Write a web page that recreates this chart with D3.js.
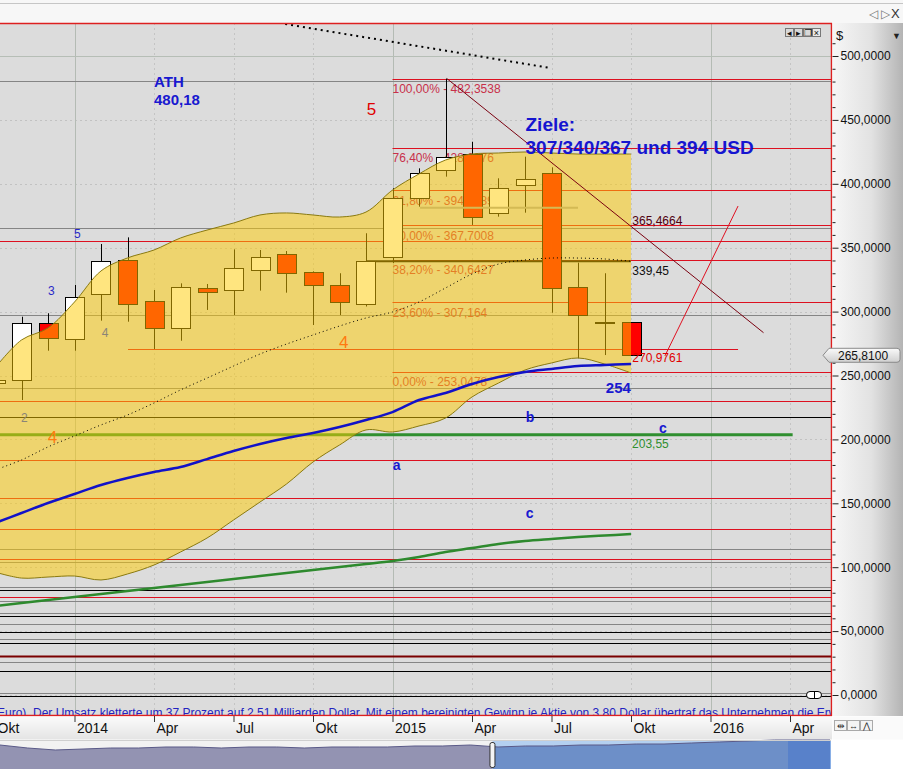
<!DOCTYPE html>
<html><head><meta charset="utf-8">
<script src="https://cdn.jsdelivr.net/npm/d3@7"></script>
<style>
body{margin:0;background:#fff;overflow:hidden}
svg{display:block;font-family:"Liberation Sans",Arial,sans-serif}
</style></head><body>
<svg id="c" width="903" height="769"></svg>
<script>
// ---------- DATA ----------
// month index: 0 = Jan 2014
const candleMonths = d3.range(-3, 22);
const openVals  = [244.5,246.5,290.8,279.1,314.3,340.4,308.3,286.9,318.2,316.4,332.0,344.8,330.8,320.6,305.7,342.5,389.1,410.8,423.1,376.9,398.5,408.2,319.5,291.8,291.6];
const highVals  = [246.5,296.0,298.7,320.8,352.9,358.1,316.9,322.1,321.6,348.7,348.2,347.4,331.5,330.0,361.3,396.5,412.1,482.35,432.9,404.3,421.2,412.9,338.3,330.0,291.6];
const lowVals   = [244.5,230.8,269.4,269.4,292.9,292.1,270.7,277.2,301.3,297.3,316.4,314.8,289.5,297.3,304.0,338.0,382.1,405.6,367.8,374.3,377.4,299.1,263.5,266.0,265.81];
const closeVals = [246.5,290.8,279.1,311.7,339.8,305.7,286.9,319.0,315.1,333.9,342.5,330.0,320.3,307.3,339.4,388.7,408.7,421.2,373.8,396.5,403.5,317.9,297.3,291.4,265.81];

const bandUpper  = [255.9,277.8,287.2,307.5,331.8,342.0,348.2,357.6,363.8,369.3,375.6,377.2,375.6,374.0,377.9,395.1,407.7,418.6,423.3,424.1,424.9,424.1,423.3,423.3,423.3];
const bandLower  = [96.2,91.5,92.3,93.1,90.0,94.7,101.7,111.9,122.8,136.9,151.0,165.1,182.3,195.6,207.4,205.8,210.5,216.7,233.2,244.1,254.3,259.8,263.7,259.0,252.0];
const bandMiddle = [176.1,183.9,194.1,202.7,211.3,219.1,228.5,238.7,248.0,257.4,266.8,274.6,281.7,288.7,295.0,299.7,307.5,318.5,329.4,337.2,340.4,341.9,341.9,341.2,339.45];
const blueMA  = [134.6,142.4,150.2,157.3,164.3,169.8,174.5,178.4,184.6,190.9,196.4,201.1,205.0,209.7,215.2,221.4,230.8,236.3,243.4,248.8,252.7,255.1,257.4,258.2,259.0];
const greenMA = [69.6,72.0,74.3,76.7,79.0,81.4,83.7,86.1,88.4,90.8,93.1,95.5,97.8,100.2,102.5,104.9,108.0,111.9,115.0,118.2,120.5,122.1,123.6,124.8,126.0];

const fibValues = [482.3538,428.2376,394.7589,367.7008,340.6427,307.164,253.0478];
const fibLabels = ["100,00% - 482,3538","76,40% - 428,2376","61,80% - 394,7589","50,00% - 367,7008","38,20% - 340,6427","23,60% - 307,164","0,00% - 253,0478"];
const fibStartMonth = 12;

const redLevels   = [355.2,230.3,183.9,153.9,129.7,106.2,76.4];
const darkRedLevels = [30.5];
const grayLevels  = [480.18,365.47,297.1,240.0,114.0,103.8,84.7,73.8,64.4,55.3,43.6,25.8,1.6];
const blackLevels = [217.3,82.2,61.8,49.5,40.5,19.0,-0.9];
const topLevel = [500];

const yTicksMajor = d3.range(0, 501, 50);
const yTicksMinor = d3.range(0, 511, 10).filter(v => v % 50 !== 0);
const xTickMonths = d3.range(-3, 28, 3);
const quarterNames = ["", "Apr", "Jul", "Okt"];

const lastPrice = 265.81;
const navValues = [77.4,67.7,61.3,64.5,67.7,67.7,71.0,71.0,67.7,71.0,71.0,67.7,71.0,71.0,71.0,74.2,74.2,77.4,71.0,74.2,74.2,77.4,77.4,80.6,80.6,83.9,87.1,90.3,93.5,93.5,93.5];
const navSelStart = 17.8; // index in navValues

const tickerText = "Euro). Der Umsatz kletterte um 37 Prozent auf 2,51 Milliarden Dollar. Mit einem bereinigten Gewinn je Aktie von 3,80 Dollar übertraf das Unternehmen die Erwartungen";

// ---------- LAYOUT ----------
const W = 903, H = 769;
const P = {l: 0, r: 831, t: 23, b: 715};
const x = d3.scaleLinear().domain([0, 12]).range([74.5, 392.5]);
const y = d3.scaleLinear().domain([0, 500]).range([695, 56]);
const fmtDE = (v, d) => d3.format("." + d + "f")(v).replace(".", ",");

const svg = d3.select("#c");
const defs = svg.append("defs");
defs.append("clipPath").attr("id", "plotClip").append("rect")
  .attr("x", P.l).attr("y", P.t).attr("width", P.r - P.l).attr("height", P.b - P.t);
const gAx = defs.append("linearGradient").attr("id", "axGrad").attr("x1", 0).attr("x2", 1).attr("y1", 0).attr("y2", 0);
gAx.append("stop").attr("offset", "0").attr("stop-color", "#f6f6f6");
gAx.append("stop").attr("offset", "0.55").attr("stop-color", "#e2e2e2");
gAx.append("stop").attr("offset", "1").attr("stop-color", "#b4b4b4");
const gX = defs.append("linearGradient").attr("id", "xGrad").attr("x1", 0).attr("x2", 0).attr("y1", 0).attr("y2", 1);
gX.append("stop").attr("offset", "0").attr("stop-color", "#fbfbfb");
gX.append("stop").attr("offset", "1").attr("stop-color", "#e4e4e4");
const gTag = defs.append("linearGradient").attr("id", "tagGrad").attr("x1", 0).attr("x2", 0).attr("y1", 0).attr("y2", 1);
gTag.append("stop").attr("offset", "0").attr("stop-color", "#fafafa");
gTag.append("stop").attr("offset", "1").attr("stop-color", "#cfcfcf");

// top toolbar
svg.append("rect").attr("x", 0).attr("y", 0).attr("width", W).attr("height", P.t).attr("fill", "#f7f7f7");
svg.append("line").attr("x1", 0).attr("x2", W).attr("y1", 3.5).attr("y2", 3.5).attr("stroke", "#c6c6c6");
svg.append("text").attr("x", 869).attr("y", 18).attr("font-size", 12).attr("fill", "#777").text("◁ ▷");
svg.append("text").attr("x", 891).attr("y", 18).attr("font-size", 13).attr("fill", "#333").text("X");

// plot background
svg.append("rect").attr("x", P.l).attr("y", P.t).attr("width", P.r - P.l).attr("height", P.b - P.t).attr("fill", "#dcdcdc");

const plot = svg.append("g").attr("clip-path", "url(#plotClip)");

// grid
plot.selectAll(".hg").data(yTicksMajor).join("line")
  .attr("x1", P.l).attr("x2", P.r).attr("y1", d => Math.round(y(d)) + 0.5).attr("y2", d => Math.round(y(d)) + 0.5)
  .attr("stroke", "#c2c2c2").attr("stroke-dasharray", "2,3");
plot.selectAll(".vg").data(xTickMonths).join("line")
  .attr("x1", d => Math.round(x(d)) + 0.5).attr("x2", d => Math.round(x(d)) + 0.5).attr("y1", P.t).attr("y2", P.b)
  .attr("stroke", d => (((d % 12) + 12) % 12 === 0) ? "#b4bbb4" : "#c4c4c4")
  .attr("stroke-dasharray", d => (((d % 12) + 12) % 12 === 0) ? null : "2,3");

// horizontal level lines
function hlines(arr, color, w) {
  plot.append("g").selectAll("line").data(arr).join("line")
    .attr("x1", P.l).attr("x2", P.r)
    .attr("y1", d => Math.round(y(d)) + 0.5).attr("y2", d => Math.round(y(d)) + 0.5)
    .attr("stroke", color).attr("stroke-width", w);
}
hlines(topLevel, "#b6beb6", 1);
hlines(grayLevels, "#858585", 1);
hlines(blackLevels, "#000", 1);
hlines(redLevels, "#dd1020", 1);
hlines(darkRedLevels, "#7a0000", 2);

// fib lines
plot.append("g").selectAll("line").data(fibValues).join("line")
  .attr("x1", x(fibStartMonth)).attr("x2", P.r)
  .attr("y1", d => Math.round(y(d)) + 0.5).attr("y2", d => Math.round(y(d)) + 0.5)
  .attr("stroke", "#dd1020").attr("stroke-width", 1);
plot.append("g").selectAll("text").data(fibValues).join("text")
  .attr("x", x(fibStartMonth)).attr("y", d => y(d) + 14.5)
  .attr("font-size", 12).attr("fill", "#c8304a")
  .text((d, i) => fibLabels[i]);

// special segments
plot.append("line").attr("x1", x(2.02)).attr("x2", x(25.04)).attr("y1", Math.round(y(270.98)) + 0.5).attr("y2", Math.round(y(270.98)) + 0.5)
  .attr("stroke", "#dd1020");
plot.append("line").attr("x1", x(-3)).attr("x2", x(27.1)).attr("y1", y(203.55)).attr("y2", y(203.55))
  .attr("stroke", "#2f8f2f").attr("stroke-width", 3);
plot.append("line").attr("x1", x(11)).attr("x2", x(21)).attr("y1", y(339.45)).attr("y2", y(339.45))
  .attr("stroke", "#000").attr("stroke-width", 2);

// candles
const candles = candleMonths.map((m, i) => ({m, o: openVals[i], h: highVals[i], l: lowVals[i], c: closeVals[i]}));
const bw = 19;
const cg = plot.append("g");
cg.selectAll("line").data(candles).join("line")
  .attr("x1", d => Math.round(x(d.m)) + 0.5).attr("x2", d => Math.round(x(d.m)) + 0.5)
  .attr("y1", d => y(d.h)).attr("y2", d => y(d.l)).attr("stroke", "#000");
cg.selectAll("rect").data(candles).join("rect")
  .attr("x", d => Math.round(x(d.m) - bw / 2) + 0.5)
  .attr("y", d => Math.round(y(Math.max(d.o, d.c))) + 0.5)
  .attr("width", bw)
  .attr("height", d => Math.max(1, Math.round(Math.abs(y(d.o) - y(d.c)))))
  .attr("fill", d => d.c >= d.o ? "#ffffff" : "#ff0000")
  .attr("stroke", "#000");

// light gray segment
plot.append("line").attr("x1", x(13.04)).attr("x2", x(19)).attr("y1", y(381.3)).attr("y2", y(381.3))
  .attr("stroke", "#a8a8a8").attr("stroke-width", 2);

// band overlay
const band = candleMonths.map((m, i) => ({m, u: bandUpper[i], lo: bandLower[i], mid: bandMiddle[i], b: blueMA[i], g: greenMA[i]}));
const curve = d3.curveCatmullRom.alpha(0.5);
plot.append("path").datum(band)
  .attr("d", d3.area().x(d => x(d.m)).y0(d => y(d.lo)).y1(d => y(d.u)).curve(curve))
  .attr("fill", "rgba(255,204,0,0.5)");
plot.append("path").datum(band)
  .attr("d", d3.line().x(d => x(d.m)).y(d => y(d.u)).curve(curve))
  .attr("fill", "none").attr("stroke", "#8a7a10").attr("stroke-width", 1);
plot.append("path").datum(band)
  .attr("d", d3.line().x(d => x(d.m)).y(d => y(d.lo)).curve(curve))
  .attr("fill", "none").attr("stroke", "#8a7a10").attr("stroke-width", 1);
plot.append("path").datum(band)
  .attr("d", d3.line().x(d => x(d.m)).y(d => y(d.mid)).curve(curve))
  .attr("fill", "none").attr("stroke", "#000").attr("stroke-width", 1).attr("stroke-dasharray", "1,3");

// moving averages
plot.append("path").datum(band)
  .attr("d", d3.line().x(d => x(d.m)).y(d => y(d.b)).curve(curve))
  .attr("fill", "none").attr("stroke", "#1212c8").attr("stroke-width", 2.5);
plot.append("path").datum(band)
  .attr("d", d3.line().x(d => x(d.m)).y(d => y(d.g)).curve(curve))
  .attr("fill", "none").attr("stroke", "#2e8a2e").attr("stroke-width", 2.5);

// trend lines
const trendTop = [[7.95, 525], [17.95, 490.6]];
const trendDown = [[14.05, 482.35], [26.0, 283.5]];
const trendUp = [[22.28, 265.3], [25.04, 382.6]];
const ln = d3.line().x(d => x(d[0])).y(d => y(d[1]));
plot.append("path").attr("d", ln(trendTop)).attr("stroke", "#000").attr("stroke-width", 2).attr("stroke-dasharray", "2,4").attr("fill", "none");
plot.append("path").attr("d", ln(trendDown)).attr("stroke", "#7a0010").attr("stroke-width", 1).attr("fill", "none");
plot.append("path").attr("d", ln(trendUp)).attr("stroke", "#e01020").attr("stroke-width", 1).attr("fill", "none");

// annotations [text, month, value, color, size, weight]
const notes = [
  ["ATH", 3.0, 475.4, "#1818d0", 15, "bold"],
  ["480,18", 3.0, 461.7, "#1818d0", 15, "bold"],
  ["5", 11.03, 453.8, "#e00000", 17, "normal"],
  ["Ziele:", 17.02, 441.3, "#1515d0", 19, "bold"],
  ["307/340/367 und 394 USD", 17.02, 423.3, "#1515d0", 19, "bold"],
  ["5", -0.02, 357.4, "#2a2ac8", 12, "normal"],
  ["3", -1.0, 313.0, "#2a2ac8", 12, "normal"],
  ["4", 1.03, 280.4, "#8a8478", 12, "normal"],
  ["2", -2.02, 213.9, "#8a8478", 12, "normal"],
  ["4", -1.01, 197.2, "#ff7a10", 17, "normal"],
  ["4", 9.98, 271.5, "#ff7a10", 17, "normal"],
  ["3", -3.3, 350.5, "#e00000", 17, "normal"],
  ["365,4664", 21.05, 367.4, "#500010", 12, "normal"],
  ["339,45", 21.05, 329.0, "#101010", 12, "normal"],
  ["270,9761", 21.05, 260.2, "#e00000", 12, "normal"],
  ["254", 20.05, 236.1, "#1818d0", 15, "bold"],
  ["b", 17.03, 213.9, "#1818d0", 14, "bold"],
  ["c", 22.06, 205.2, "#1818d0", 14, "bold"],
  ["203,55", 21.04, 193.3, "#2f8f2f", 12, "normal"],
  ["a", 12.01, 176.1, "#1818d0", 14, "bold"],
  ["c", 17.03, 138.7, "#1818d0", 14, "bold"]
];
plot.append("g").selectAll("text").data(notes).join("text")
  .attr("x", d => x(d[1])).attr("y", d => y(d[2]))
  .attr("fill", d => d[3]).attr("font-size", d => d[4]).attr("font-weight", d => d[5])
  .text(d => d[0]);

// zero-line symbol
plot.append("rect").attr("x", 806.5).attr("y", 691.5).attr("width", 15).attr("height", 7).attr("rx", 3.5)
  .attr("fill", "#fff").attr("stroke", "#000");
plot.append("line").attr("x1", 814.5).attr("x2", 814.5).attr("y1", 691).attr("y2", 699).attr("stroke", "#000");

// ticker text
plot.append("text").attr("x", -3).attr("y", 716.5).attr("font-size", 12).attr("fill", "#2323c0").text(tickerText);

// in-plot buttons
const btn = svg.append("g");
[["◂", 785], ["▸", 794], ["❐", 803], ["×", 812]].forEach(([t, bx]) => {
  btn.append("rect").attr("x", bx + 0.5).attr("y", 28.5).attr("width", 8).attr("height", 8)
    .attr("fill", t === "×" ? "#e8e8e8" : "#d8d8d8").attr("stroke", "#777");
  btn.append("text").attr("x", bx + 4.5).attr("y", 35.5).attr("text-anchor", "middle").attr("font-size", 9).attr("fill", "#111").text(t);
});

// borders
svg.append("line").attr("x1", 0).attr("x2", P.r + 1).attr("y1", P.t + 0.5).attr("y2", P.t + 0.5).attr("stroke", "#dd2020").attr("stroke-width", 1.5);
svg.append("line").attr("x1", P.r + 0.5).attr("x2", P.r + 0.5).attr("y1", P.t).attr("y2", P.b + 1).attr("stroke", "#dd2020").attr("stroke-width", 1.5);
svg.append("line").attr("x1", 0).attr("x2", P.r + 1).attr("y1", P.b + 0.5).attr("y2", P.b + 0.5).attr("stroke", "#dd2020").attr("stroke-width", 1.5);

// right axis panel
svg.append("rect").attr("x", P.r + 1.5).attr("y", P.t).attr("width", W - P.r - 1.5).attr("height", P.b - P.t + 1).attr("fill", "url(#axGrad)");
svg.append("text").attr("x", 836).attr("y", 40).attr("font-size", 13).attr("fill", "#111").text("$");
svg.append("text").attr("x", 892).attr("y", 39).attr("font-size", 9).attr("fill", "#222").text("▼");
const axMinor = d3.axisRight(y).tickValues(yTicksMinor).tickSize(3).tickFormat("");
const axMajor = d3.axisRight(y).tickValues(yTicksMajor).tickSize(6).tickPadding(2).tickFormat(d => fmtDE(d, 4));
const gm = svg.append("g").attr("transform", `translate(${P.r + 1.5},0)`).call(axMinor);
gm.select(".domain").remove();
gm.selectAll("line").attr("stroke", "#222");
const gM = svg.append("g").attr("transform", `translate(${P.r + 1.5},0)`).call(axMajor);
gM.select(".domain").remove();
gM.selectAll("line").attr("stroke", "#222");
gM.selectAll("text").attr("font-size", 12).attr("fill", "#111").attr("font-family", "Liberation Sans, Arial, sans-serif");

// last price tag
const ty = y(lastPrice);
svg.append("path")
  .attr("d", `M823,${ty} L829,${ty - 7} L897,${ty - 7} Q900,${ty - 7} 900,${ty - 4} L900,${ty + 4} Q900,${ty + 7} 897,${ty + 7} L829,${ty + 7} Z`)
  .attr("fill", "url(#tagGrad)").attr("stroke", "#8a8a8a");
svg.append("text").attr("x", 838).attr("y", ty + 4.5).attr("font-size", 12).attr("fill", "#111").text(fmtDE(lastPrice, 4));

// x axis strip
svg.append("rect").attr("x", 0).attr("y", P.b + 1.5).attr("width", P.r + 1).attr("height", 23).attr("fill", "url(#xGrad)");
svg.append("rect").attr("x", P.r + 1.5).attr("y", P.b + 1.5).attr("width", W - P.r).attr("height", 23).attr("fill", "#fafafa");
const xAxis = d3.axisBottom(x).tickValues(xTickMonths).tickSize(6)
  .tickFormat(m => { const q = ((m % 12) + 12) % 12; return q === 0 ? String(2014 + Math.floor(m / 12)) : quarterNames[q / 3]; });
const gxa = svg.append("g").attr("transform", `translate(0,${P.b + 1})`).call(xAxis);
gxa.select(".domain").remove();
gxa.selectAll("line").attr("stroke", "#333");
gxa.selectAll("text").attr("text-anchor", "start").attr("x", 2).attr("y", 16.5).attr("dy", 0)
  .attr("font-size", 14).attr("fill", "#111")
  .attr("font-family", "'Liberation Sans Narrow','Arial Narrow','Liberation Sans',Arial,sans-serif");
[["⇹", 834], ["↔", 847], ["⋀", 860]].forEach(([t, bx]) => {
  svg.append("rect").attr("x", bx + 0.5).attr("y", 720.5).attr("width", 12).attr("height", 10).attr("fill", "#f4f4f4").attr("stroke", "#aaa");
  svg.append("text").attr("x", bx + 6.5).attr("y", 729).attr("text-anchor", "middle").attr("font-size", 9).attr("fill", "#333").text(t);
});

// navigator
const nY0 = 740, nY1 = 769;
const nx = d3.scaleLinear().domain([0, navValues.length - 1]).range([0, 830]);
const ny = d3.scaleLinear().domain([0, 100]).range([769, 738]);
svg.append("rect").attr("x", 0).attr("y", nY0).attr("width", 831).attr("height", nY1 - nY0).attr("fill", "#f2f2f2");
const selX = nx(navSelStart);
svg.append("rect").attr("x", selX).attr("y", nY0).attr("width", 831 - selX).attr("height", nY1 - nY0).attr("fill", "#b4d0f0");
defs.append("clipPath").attr("id", "navL").append("rect").attr("x", 0).attr("y", nY0).attr("width", selX).attr("height", 30);
defs.append("clipPath").attr("id", "navR").append("rect").attr("x", selX).attr("y", nY0).attr("width", 831 - selX).attr("height", 30);
const navArea = d3.area().x((d, i) => nx(i)).y0(nY1).y1(d => ny(d));
svg.append("path").datum(navValues).attr("d", navArea).attr("fill", "#9393b2").attr("clip-path", "url(#navL)");
svg.append("path").datum(navValues).attr("d", navArea).attr("fill", "#6d8fc8").attr("clip-path", "url(#navR)");
svg.append("path").datum(navValues).attr("d", d3.line().x((d, i) => nx(i)).y(d => ny(d)))
  .attr("fill", "none").attr("stroke", "#5a5a88").attr("stroke-width", 1);
svg.append("rect").attr("x", 788).attr("y", nY0).attr("width", 43).attr("height", nY1 - nY0).attr("fill", "rgba(40,100,210,0.3)");
svg.append("line").attr("x1", 0).attr("x2", 831).attr("y1", nY0 + 0.5).attr("y2", nY0 + 0.5).attr("stroke", "#cfcfcf");
svg.append("rect").attr("x", selX - 2.5).attr("y", 742.5).attr("width", 5).attr("height", 25).attr("rx", 2)
  .attr("fill", "#f4f4f4").attr("stroke", "#333");
svg.append("rect").attr("x", 832).attr("y", nY0).attr("width", 71).attr("height", 29).attr("fill", "#ffffff");
</script>
</body></html>
